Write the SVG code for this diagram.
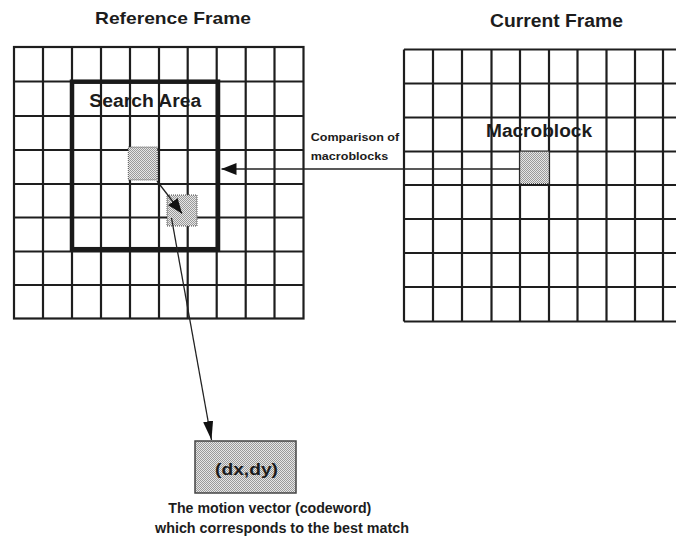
<svg xmlns="http://www.w3.org/2000/svg" width="676" height="537" viewBox="0 0 676 537">
  <style>
    .grid { fill: none; stroke: #1e1e1e; stroke-width: 2.2; }
    .search { fill: none; stroke: #1a1a1a; stroke-width: 4.5; }
    .block { fill: url(#stipple); stroke: #555; stroke-width: 1; stroke-dasharray: 1 1; }
    .mv { fill: url(#stipple); stroke: #444; stroke-width: 1.5; }
    .conn { fill: none; stroke: #222; stroke-width: 1.3; }
    .t { font-family: "Liberation Sans", Arial, sans-serif; font-weight: bold; fill: #1c1c1c; }
  </style>
  <defs>
    <pattern id="stipple" patternUnits="userSpaceOnUse" width="2" height="2">
      <rect width="2" height="2" fill="#e6e6e6"/>
      <rect x="0" y="0" width="1" height="1" fill="#9a9a9a"/>
      <rect x="1" y="1" width="1" height="1" fill="#9a9a9a"/>
    </pattern>
    <marker id="head" markerUnits="userSpaceOnUse" markerWidth="15" markerHeight="12" refX="15" refY="6" orient="auto">
      <path d="M0,0 L15,6 L0,12 z" fill="#111"/>
    </marker>
    <marker id="headLong" markerUnits="userSpaceOnUse" markerWidth="19" markerHeight="10" refX="19" refY="5" orient="auto">
      <path d="M0,0 L19,5 L0,10 z" fill="#111"/>
    </marker>
  </defs>

  <!-- titles -->
  <text class="t" x="95" y="23.5" font-size="17" textLength="156" lengthAdjust="spacingAndGlyphs">Reference Frame</text>
  <text class="t" x="490" y="26.5" font-size="18" textLength="133" lengthAdjust="spacingAndGlyphs">Current Frame</text>

  <!-- reference frame: 10 x 8 grid with search area -->
  <g id="reference-frame">
    <rect class="grid" x="14" y="47" width="289.5" height="271.5"/>
    <path class="grid" d="M43,47V318.5 M72,47V318.5 M101,47V318.5 M130,47V318.5 M159,47V318.5 M187.7,47V318.5 M216.7,47V318.5 M245.7,47V318.5 M274.5,47V318.5
                          M14,81.5H303.5 M14,116H303.5 M14,150H303.5 M14,184H303.5 M14,217.5H303.5 M14,251.5H303.5 M14,285H303.5"/>
  </g>

  <g id="search-area">
    <rect class="search" x="72" y="81.7" width="146" height="167.5"/>
    <text class="t" x="89.3" y="107.3" font-size="18" textLength="112" lengthAdjust="spacingAndGlyphs">Search Area</text>
  </g>

  <g id="candidate-block">
    <rect class="block" x="128.3" y="147" width="29" height="33"/>
  </g>

  <g id="best-match-block">
    <rect class="block" x="167" y="195" width="30" height="31"/>
  </g>

  <!-- current frame grid, running past the right edge -->
  <g id="current-frame">
    <path class="grid" d="M404,49.5H700 M404,321.5H700 M404,49.5V321.5
                          M433,49.5V321.5 M462,49.5V321.5 M491.5,49.5V321.5 M520,49.5V321.5 M549,49.5V321.5 M577.5,49.5V321.5 M606.5,49.5V321.5 M635,49.5V321.5 M663,49.5V321.5
                          M404,83.5H700 M404,117.5H700 M404,151.5H700 M404,185H700 M404,219H700 M404,253H700 M404,287H700"/>
    <text class="t" x="486" y="136.7" font-size="18" textLength="106" lengthAdjust="spacingAndGlyphs">Macroblock</text>
  </g>

  <g id="macroblock">
    <rect class="block" x="520" y="151.5" width="29" height="32"/>
  </g>

  <!-- connectors -->
  <g id="connectors">
    <line class="conn" x1="520" y1="169" x2="221.5" y2="169" marker-end="url(#head)"/>
    <line class="conn" x1="157" y1="181" x2="182" y2="213.5" stroke-width="1.5" marker-end="url(#head)"/>
    <line class="conn" x1="171.5" y1="218" x2="211.5" y2="440" stroke-width="1.5" marker-end="url(#headLong)"/>
  </g>

  <g id="comparison-label">
    <text class="t" x="310.7" y="140.7" font-size="11" textLength="88.5" lengthAdjust="spacingAndGlyphs">Comparison of</text>
    <text class="t" x="310.7" y="160" font-size="11" textLength="77.5" lengthAdjust="spacingAndGlyphs">macroblocks</text>
  </g>

  <g id="motion-vector">
    <rect class="mv" x="195" y="441" width="101" height="52"/>
    <text class="t" x="215" y="475" font-size="17" textLength="63" lengthAdjust="spacingAndGlyphs">(dx,dy)</text>
    <text class="t" x="168.3" y="513.3" font-size="14" textLength="203" lengthAdjust="spacingAndGlyphs">The motion vector (codeword)</text>
    <text class="t" x="155" y="533.3" font-size="14" textLength="254" lengthAdjust="spacingAndGlyphs">which corresponds to the best match</text>
  </g>
</svg>
